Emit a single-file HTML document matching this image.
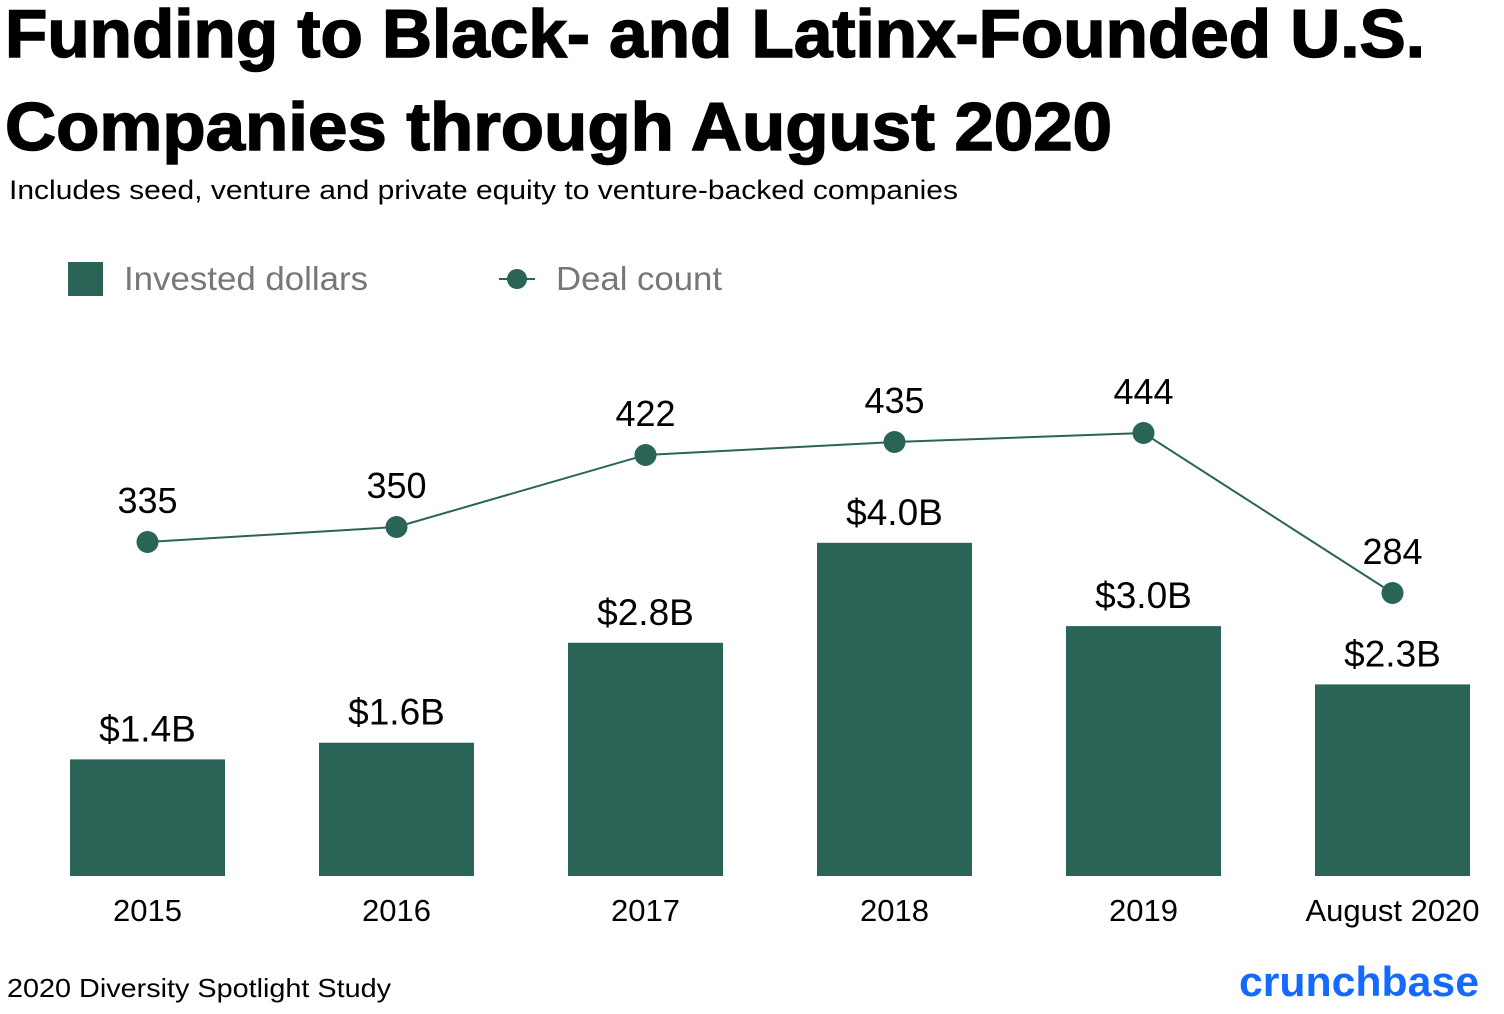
<!DOCTYPE html>
<html><head><meta charset="utf-8"><style>
html,body{margin:0;padding:0;background:#fff;}
svg{display:block;font-family:"Liberation Sans",sans-serif;}
</style></head><body>
<svg id="chart" width="1504" height="1014" viewBox="0 0 1504 1014" xmlns="http://www.w3.org/2000/svg">
<text x="5" y="57" font-size="68" font-weight="bold" fill="#000" stroke="#000" stroke-width="1.5" textLength="1420" lengthAdjust="spacingAndGlyphs">Funding to Black- and Latinx-Founded U.S.</text>
<text x="5" y="150" font-size="68" font-weight="bold" fill="#000" stroke="#000" stroke-width="1.5" textLength="1107" lengthAdjust="spacingAndGlyphs">Companies through August 2020</text>
<text x="9" y="199" font-size="27" fill="#000" textLength="949" lengthAdjust="spacingAndGlyphs">Includes seed, venture and private equity to venture-backed companies</text>
<g>
<rect x="68" y="262" width="35" height="34" fill="#2a6457"/>
<text x="124" y="290" font-size="33" fill="#777" textLength="244" lengthAdjust="spacingAndGlyphs">Invested dollars</text>
<line x1="499" y1="279" x2="535" y2="279" stroke="#2a6457" stroke-width="2"/>
<circle cx="517" cy="279" r="10" fill="#2a6457"/>
<text x="556" y="290" font-size="33" fill="#777" textLength="166" lengthAdjust="spacingAndGlyphs">Deal count</text>
</g>
<g id="plot"></g>
<text x="7" y="997" font-size="26" fill="#000" textLength="384" lengthAdjust="spacingAndGlyphs">2020 Diversity Spotlight Study</text>
<text x="1239" y="996" font-size="42" font-weight="bold" fill="#146aff" textLength="240" lengthAdjust="spacingAndGlyphs">crunchbase</text>
</svg>
<script>
const categories = ["2015","2016","2017","2018","2019","August 2020"];
const invested = [1.4,1.6,2.8,4.0,3.0,2.3];
const investedLabels = ["$1.4B","$1.6B","$2.8B","$4.0B","$3.0B","$2.3B"];
const deals = [335,350,422,435,444,284];
const NS="http://www.w3.org/2000/svg";
const g=document.getElementById('plot');
const baseY=876, barScale=83.3, x0=147.5, step=249, barW=155;
const xPos=i=>x0+i*step;
const yBar=v=>baseY-v*barScale;
const yLine=v=>877-v*1.0;
function mk(t,a){const e=document.createElementNS(NS,t);for(const k in a)e.setAttribute(k,a[k]);g.appendChild(e);return e;}
categories.forEach((c,i)=>{
  const r=mk('rect',{x:xPos(i)-barW/2,y:yBar(invested[i]),width:barW,height:baseY-yBar(invested[i]),fill:'#2a6457'});
  
  
  const l=mk('text',{x:xPos(i),y:yBar(invested[i])-18,'font-size':37,'text-anchor':'middle',fill:'#000'});
  l.textContent=investedLabels[i];
  
  
  const t=mk('text',{x:xPos(i),y:921,'font-size':31,'text-anchor':'middle',fill:'#000'});
  t.textContent=c;
  
  
});
const pts=deals.map((d,i)=>xPos(i)+','+yLine(d)).join(' ');
const pl=mk('polyline',{points:pts,fill:'none',stroke:'#2a6457','stroke-width':2});


deals.forEach((d,i)=>{
  const c=mk('circle',{cx:xPos(i),cy:yLine(d),r:11,fill:'#2a6457'});
  
  
  const t=mk('text',{x:xPos(i),y:yLine(d)-29,'font-size':36,'text-anchor':'middle',fill:'#000'});
  t.textContent=d;
  
  
});
</script>
</body></html>
